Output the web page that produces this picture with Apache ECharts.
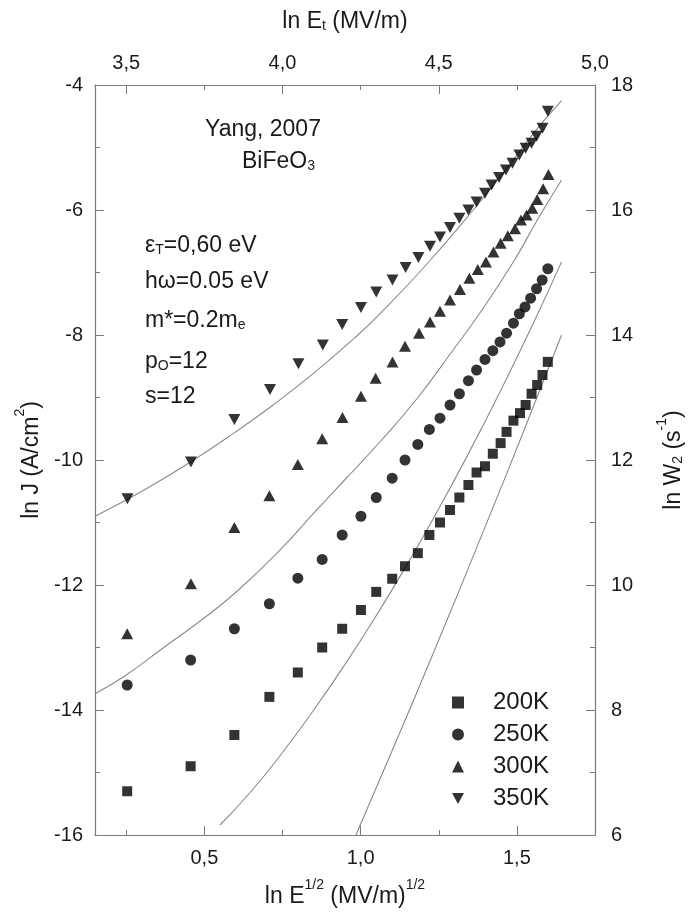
<!DOCTYPE html>
<html>
<head>
<meta charset="utf-8">
<script src="https://cdn.jsdelivr.net/npm/echarts@6/dist/echarts.min.js"></script>
<style>
html,body{margin:0;padding:0;background:#fff;}
#chart{width:694px;height:922px;}
</style>
</head>
<body>
<div id="chart"></div>
<script>
// ---- data ----
const x200 = [0.253,0.456,0.596,0.708,0.799,0.877,0.941,1.001,1.050,1.101,1.142,1.183,1.220,1.254,1.286,1.316,1.345,1.371,1.398,1.423,1.448,1.467,1.489,1.510,1.528,1.547,1.565,1.582,1.599];
const y200 = [-15.30,-14.90,-14.40,-13.79,-13.40,-13.00,-12.70,-12.40,-12.11,-11.90,-11.70,-11.49,-11.20,-11.00,-10.80,-10.60,-10.40,-10.20,-10.10,-9.90,-9.73,-9.55,-9.37,-9.25,-9.12,-8.94,-8.80,-8.64,-8.43];

const x250 = [0.253,0.456,0.596,0.708,0.799,0.877,0.941,1.001,1.050,1.101,1.142,1.183,1.220,1.254,1.286,1.316,1.345,1.371,1.398,1.423,1.446,1.467,1.489,1.508,1.526,1.544,1.563,1.581,1.599];
const y250 = [-13.60,-13.20,-12.70,-12.30,-11.89,-11.59,-11.20,-10.90,-10.60,-10.29,-10.00,-9.75,-9.51,-9.33,-9.12,-8.94,-8.73,-8.56,-8.39,-8.25,-8.11,-7.97,-7.81,-7.66,-7.55,-7.41,-7.26,-7.12,-6.94];

const x300 = [0.253,0.457,0.596,0.708,0.799,0.877,0.942,1.001,1.048,1.102,1.142,1.187,1.222,1.254,1.286,1.318,1.348,1.375,1.401,1.425,1.448,1.471,1.494,1.513,1.531,1.549,1.565,1.584,1.601];
const y300 = [-12.78,-11.98,-11.08,-10.57,-10.07,-9.66,-9.32,-8.98,-8.69,-8.43,-8.18,-7.97,-7.79,-7.62,-7.44,-7.27,-7.09,-6.95,-6.83,-6.67,-6.53,-6.41,-6.30,-6.16,-6.08,-5.97,-5.83,-5.66,-5.43];

const x350 = [0.254,0.457,0.596,0.710,0.801,0.879,0.941,1.001,1.050,1.102,1.144,1.185,1.222,1.254,1.286,1.316,1.345,1.371,1.398,1.419,1.443,1.465,1.486,1.508,1.528,1.547,1.563,1.582,1.599];
const y350 = [-10.62,-10.03,-9.35,-8.87,-8.46,-8.16,-7.83,-7.56,-7.31,-7.12,-6.92,-6.76,-6.58,-6.43,-6.28,-6.13,-6.00,-5.87,-5.73,-5.60,-5.48,-5.36,-5.25,-5.12,-5.01,-4.93,-4.82,-4.69,-4.42];

// fitted (theory) curves
const fx350 = [0.150,0.300,0.450,0.600,0.720,0.850,0.980,1.060,1.220,1.380,1.490,1.560,1.643];
const fy350 = [-10.90,-10.50,-10.05,-9.55,-9.12,-8.61,-8.05,-7.67,-6.82,-5.88,-5.19,-4.73,-4.25];
const fx300 = [0.150,0.250,0.370,0.480,0.600,0.740,0.850,0.960,1.060,1.180,1.290,1.380,1.490,1.570,1.643];
const fy300 = [-13.74,-13.44,-13.00,-12.60,-12.12,-11.45,-10.85,-10.26,-9.72,-9.02,-8.28,-7.66,-6.82,-6.12,-5.52];
const fx250 = [0.550,0.650,0.750,0.850,0.950,1.050,1.150,1.250,1.350,1.450,1.550,1.643];
const fy250 = [-15.84,-15.30,-14.68,-14.00,-13.27,-12.49,-11.66,-10.78,-9.85,-8.87,-7.84,-6.83];
const fx200 = [0.985,1.100,1.250,1.400,1.520,1.643];
const fy200 = [-16.00,-14.66,-12.88,-11.05,-9.56,-8.00];

const bottomLabels = [0.5, 1.0, 1.5];
const bottomMinor = [0.25, 0.75, 1.25];
const topLabels = [3.5, 4.0, 4.5, 5.0];
const topMinor = [3.75, 4.25, 4.75];
const seriesNames = ['200K', '250K', '300K', '350K'];

// ---- chart ----
const pair = (xs, ys) => xs.map((x, i) => [x, ys[i]]);
const AX = '#7a7a7a';
const TXT = '#1a1a1a';
const FONT = 'Liberation Sans';
const comma = v => Number(v).toFixed(1).replace('.', ',');

const richBase = {
  t: {fontSize: 23, fontFamily: FONT, color: TXT, fontWeight: 'normal', lineHeight: 30, verticalAlign: 'bottom'},
  sup: {fontSize: 14, fontFamily: FONT, color: TXT, fontWeight: 'normal', verticalAlign: 'top', lineHeight: 30},
  sub: {fontSize: 14, fontFamily: FONT, color: TXT, fontWeight: 'normal', verticalAlign: 'bottom', lineHeight: 22}
};
const richAnn = {
  t: {fontSize: 23, fontFamily: FONT, color: TXT, fontWeight: 'normal', lineHeight: 28, verticalAlign: 'bottom'},
  sub: {fontSize: 14, fontFamily: FONT, color: TXT, fontWeight: 'normal', verticalAlign: 'bottom', lineHeight: 20}
};
const plainAnn = {fontSize: 23, fontWeight: 'normal', fontFamily: FONT, color: TXT};

const tickMajor = {show: true, inside: true, length: 9, lineStyle: {color: AX, width: 1}};
const tickMinor = {show: true, inside: true, length: 5, lineStyle: {color: AX, width: 1}};
const fitLine = {color: '#8a8a8a', width: 1.1};

const chart = echarts.init(document.getElementById('chart'));
const downTri = 'path://M0,0 L10,0 L5,9 Z';

const option = {
  backgroundColor: '#fff',
  animation: false,
  grid: {left: 95, right: 99, top: 85, bottom: 87, containLabel: false},
  xAxis: [
    {
      type: 'value', position: 'bottom', min: 0.15, max: 1.75,
      axisLine: {show: true, lineStyle: {color: AX, width: 1.2}},
      axisTick: Object.assign({customValues: bottomLabels}, tickMajor),
      axisLabel: {customValues: bottomLabels, formatter: comma, fontSize: 20, fontFamily: FONT, color: TXT, margin: 13},
      splitLine: {show: false},
      name: '{t|ln E}{sup|1/2}{t| (MV/m)}{sup|1/2}',
      nameLocation: 'middle', nameGap: 43,
      nameTextStyle: {rich: richBase}
    },
    {
      type: 'value', position: 'bottom', min: 0.15, max: 1.75,
      axisLine: {show: false},
      axisTick: Object.assign({customValues: bottomMinor}, tickMinor),
      axisLabel: {show: false}, splitLine: {show: false}
    },
    {
      type: 'value', position: 'top', min: 3.4, max: 5.0,
      axisLine: {show: true, lineStyle: {color: AX, width: 1.2}},
      axisTick: Object.assign({customValues: topLabels}, tickMajor),
      axisLabel: {customValues: topLabels, formatter: comma, fontSize: 20, fontFamily: FONT, color: TXT, margin: 12},
      splitLine: {show: false},
      name: '{t|ln E}{sub|t}{t| (MV/m)}',
      nameLocation: 'middle', nameGap: 52,
      nameTextStyle: {rich: richBase}
    },
    {
      type: 'value', position: 'top', min: 3.4, max: 5.0,
      axisLine: {show: false},
      axisTick: Object.assign({customValues: topMinor}, tickMinor),
      axisLabel: {show: false}, splitLine: {show: false}
    }
  ],
  yAxis: [
    {
      type: 'value', position: 'left', min: -16, max: -4, interval: 2,
      axisLine: {show: true, lineStyle: {color: AX, width: 1.2}},
      axisTick: tickMajor,
      minorTick: {show: true, splitNumber: 2, length: 5, lineStyle: {color: AX}},
      axisLabel: {fontSize: 20, fontFamily: FONT, color: TXT, margin: 12},
      splitLine: {show: false}, minorSplitLine: {show: false},
      name: '{t|ln J (A/cm}{sup|2}{t|)}',
      nameLocation: 'middle', nameGap: 52, nameRotate: 90,
      nameTextStyle: {rich: richBase}
    },
    {
      type: 'value', position: 'right', min: 6, max: 18, interval: 2,
      axisLine: {show: true, lineStyle: {color: AX, width: 1.2}},
      axisTick: tickMajor,
      minorTick: {show: true, splitNumber: 2, length: 5, lineStyle: {color: AX}},
      axisLabel: {fontSize: 20, fontFamily: FONT, color: TXT, margin: 16},
      splitLine: {show: false}, minorSplitLine: {show: false},
      name: '{t|ln W}{sub|2}{t| (s}{sup|-1}{t|)}',
      nameLocation: 'middle', nameGap: 60, nameRotate: 90,
      nameTextStyle: {rich: richBase}
    }
  ],
  legend: {
    orient: 'vertical', left: 447, top: 685,
    data: seriesNames,
    itemWidth: 12, itemHeight: 12, itemGap: 7,
    textStyle: {fontSize: 24, fontFamily: FONT, color: TXT, padding: [0, 0, 0, 24], lineHeight: 25}
  },
  title: [
    {text: 'Yang, 2007', left: 200, top: 113, textStyle: plainAnn},
    {text: '{t|BiFeO}{sub|3}', left: 237, top: 140, textStyle: {fontWeight: 'normal', rich: richAnn}},
    {text: '{t|ε}{sub|T}{t|=0,60 eV}', left: 140, top: 224, textStyle: {fontWeight: 'normal', rich: richAnn}},
    {text: 'hω=0.05 eV', left: 140, top: 265, textStyle: plainAnn},
    {text: '{t|m*=0.2m}{sub|e}', left: 140, top: 299, textStyle: {fontWeight: 'normal', rich: richAnn}},
    {text: '{t|p}{sub|O}{t|=12}', left: 140, top: 340, textStyle: {fontWeight: 'normal', rich: richAnn}},
    {text: 's=12', left: 140, top: 380, textStyle: plainAnn}
  ],
  series: [
    {name: '200K', type: 'scatter', xAxisIndex: 0, yAxisIndex: 0, symbol: 'rect', symbolSize: 10, itemStyle: {color: '#000'}, data: pair(x200, y200), z: 3},
    {name: '250K', type: 'scatter', xAxisIndex: 0, yAxisIndex: 0, symbol: 'circle', symbolSize: 11, itemStyle: {color: '#000'}, data: pair(x250, y250), z: 3},
    {name: '300K', type: 'scatter', xAxisIndex: 0, yAxisIndex: 0, symbol: 'triangle', symbolSize: [12, 11], itemStyle: {color: '#000'}, data: pair(x300, y300), z: 3},
    {name: '350K', type: 'scatter', xAxisIndex: 0, yAxisIndex: 0, symbol: downTri, symbolSize: [12, 11], itemStyle: {color: '#000'}, data: pair(x350, y350), z: 3},
    {name: 'fit350', type: 'line', xAxisIndex: 0, yAxisIndex: 0, smooth: 0.5, showSymbol: false, symbol: 'none', lineStyle: fitLine, data: pair(fx350, fy350), z: 2},
    {name: 'fit300', type: 'line', xAxisIndex: 0, yAxisIndex: 0, smooth: 0.5, showSymbol: false, symbol: 'none', lineStyle: fitLine, data: pair(fx300, fy300), z: 2},
    {name: 'fit250', type: 'line', xAxisIndex: 0, yAxisIndex: 0, smooth: 0.5, showSymbol: false, symbol: 'none', lineStyle: fitLine, data: pair(fx250, fy250), z: 2},
    {name: 'fit200', type: 'line', xAxisIndex: 0, yAxisIndex: 0, smooth: 0.5, showSymbol: false, symbol: 'none', lineStyle: fitLine, data: pair(fx200, fy200), z: 2}
  ]
};
chart.setOption(option);
</script>
</body>
</html>
